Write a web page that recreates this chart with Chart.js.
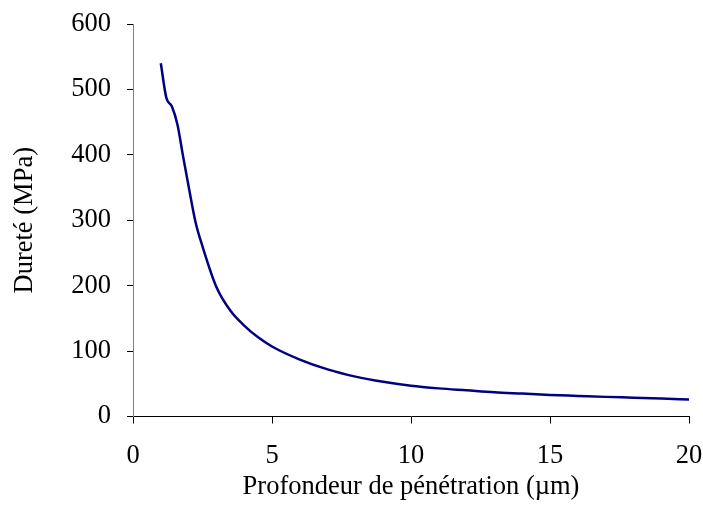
<!DOCTYPE html>
<html>
<head>
<meta charset="utf-8">
<script src="https://cdn.jsdelivr.net/npm/chart.js@4"></script>
<style>
  html, body { margin: 0; padding: 0; background: #fff; }
  #wrap { width: 703px; height: 515px; }
</style>
</head>
<body>
<div id="wrap"><canvas id="dureteChart" width="703" height="515"></canvas></div>
<script>
// profondeur (µm) et dureté (MPa)
const profondeur = [1, 1.2, 1.4, 1.6, 1.8, 2, 2.25, 2.5, 3, 3.5, 4, 4.5, 5, 6, 7, 8, 9, 10, 11, 12, 13, 14, 15, 16, 17, 18, 19, 20];
const durete = [540, 487, 474, 446, 398, 352, 297, 260, 198, 162, 139, 121, 107, 87, 72, 61, 53, 47, 43, 40, 37, 35, 33, 31.5, 30, 28.8, 27.5, 26];
const xTicks = [0, 5, 10, 15, 20];
const yTicks = [0, 100, 200, 300, 400, 500, 600];

const font = { family: "'Liberation Serif', 'Times New Roman', serif", size: 26.5 };

const ctx = document.getElementById("dureteChart");

new Chart(ctx, {
  type: "line",
  data: {
    datasets: [{
      label: "Dureté",
      data: profondeur.map((x, i) => ({ x: x, y: durete[i] })),
      borderColor: "#000080",
      borderWidth: 2.5,
      pointRadius: 0,
      fill: false,
      cubicInterpolationMode: "monotone"
    }]
  },
  options: {
    responsive: false,
    animation: false,
    layout: { padding: { top: 24, right: 14, left: 0, bottom: 0 } },
    plugins: { legend: { display: false }, tooltip: { enabled: false } },
    scales: {
      x: {
        type: "linear",
        min: 0,
        max: 20,
        afterBuildTicks: s => { s.ticks = xTicks.map(v => ({ value: v })); },
        afterFit: s => { s.height = 98.5; s.paddingLeft = 0; s.paddingRight = 0; },
        border: { color: "#000", width: 1 },
        grid: { drawOnChartArea: false, tickLength: 7, tickColor: "#000" },
        ticks: { color: "#000", font: font, padding: 17, maxRotation: 0 },
        title: { display: true, text: "Profondeur de pénétration (µm)", color: "#000", font: font, padding: { top: 4, bottom: 12 } }
      },
      y: {
        min: 0,
        max: 600,
        afterBuildTicks: s => { s.ticks = yTicks.map(v => ({ value: v })); },
        afterFit: s => { s.width = 133; s.paddingTop = 0; s.paddingBottom = 0; },
        border: { color: "#808080", width: 1 },
        grid: { drawOnChartArea: false, tickLength: 6, tickColor: "#000" },
        ticks: { color: "#000", font: font, padding: 16 },
        title: { display: true, text: "Dureté (MPa)", color: "#000", font: font, padding: { top: 9, bottom: 10 } }
      }
    }
  }
});
</script>
</body>
</html>
